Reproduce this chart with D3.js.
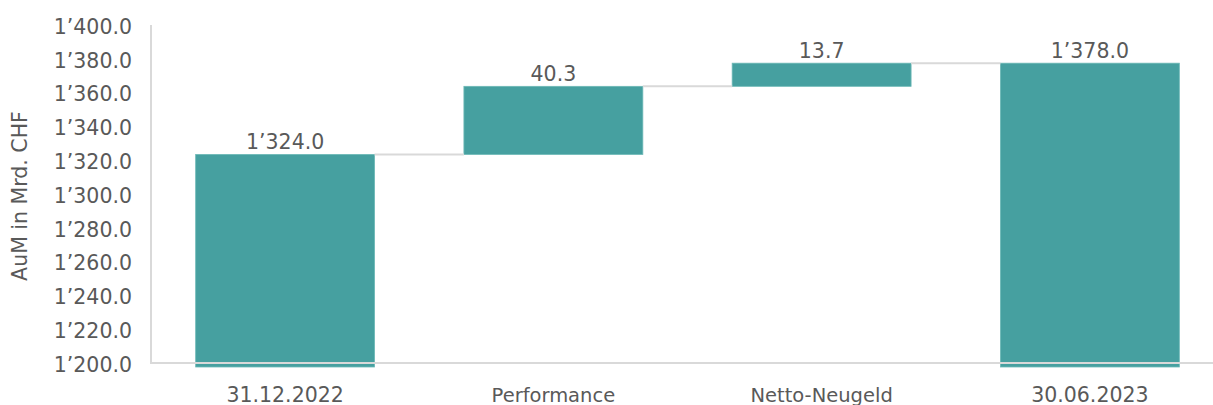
<!DOCTYPE html>
<html lang="de">
<head>
  <meta charset="UTF-8">
  <style>
    body { margin: 0; background: #fff; }
    svg text { font-family: "DejaVu Sans", "Liberation Sans", sans-serif; fill: #595959; }
    .bar { fill: #46a0a0; stroke: #6cb8b6; stroke-width: 0.8; }
    .conn { stroke: #d9d9d9; stroke-width: 2; }
  </style>
  <script src="https://d3js.org/d3.v7.min.js"></script>
</head>
<body>
<svg id="chart"></svg>
<script>
// waterfall: start, changes, end
var categories = ['31.12.2022', 'Performance', 'Netto-Neugeld', '30.06.2023'];
var values = [1324.0, 40.3, 13.7, 1378.0];
var isTotal = [true, false, false, true];
var yTicks = [1200, 1220, 1240, 1260, 1280, 1300, 1320, 1340, 1360, 1380, 1400];

var size = {width: 1213, height: 405};
var yMin = 1200, yMax = 1400;

var svg = d3.select('#chart')
  .attr('width', size.width)
  .attr('height', size.height);

var x = d3.scaleBand()
  .domain(categories)
  .range([151, 1224])
  .paddingInner(0.333)
  .paddingOuter(0.1665);

var y = d3.scaleLinear()
  .domain([yMin, yMax])
  .range([364, 26]);

// compute bar extents
var running = 0;
var bars = categories.map(function(c, i) {
  var lo, hi;
  if (isTotal[i]) {
    lo = yMin; hi = values[i]; running = values[i];
  } else {
    lo = running; hi = running + values[i]; running = hi;
  }
  return {name: c, lo: lo, hi: hi, v: values[i], total: isTotal[i]};
});

var fmt = function(v) {
  return d3.format(',.1f')(v).replace(/,/g, '\u2019');
};

// y axis labels
var yAxis = d3.axisLeft(y).tickValues(yTicks).tickFormat(fmt).tickSize(0).tickPadding(19);
var gy = svg.append('g')
  .attr('transform', 'translate(151,0)')
  .call(yAxis);
gy.select('.domain').remove();
gy.selectAll('text')
  .style('font-size', '20.5px')
  .style('font-family', null)
  .attr('fill', null)
  .attr('dy', '0.36em');

// axis line
svg.append('line').attr('class', 'conn')
  .attr('x1', 151).attr('x2', 151)
  .attr('y1', 25).attr('y2', y(yMin));

// bars
svg.selectAll('.bar')
  .data(bars)
  .enter()
  .append('rect')
  .attr('class', 'bar')
  .attr('x', function(d) { return x(d.name); })
  .attr('width', x.bandwidth())
  .attr('y', function(d) { return y(d.hi); })
  .attr('height', function(d) {
    var bottom = d.lo === yMin ? y(d.lo) + 3 : y(d.lo);
    return bottom - y(d.hi);
  });

// baseline drawn over bar feet
svg.append('line').attr('class', 'conn')
  .attr('x1', 151).attr('x2', size.width)
  .attr('y1', y(yMin) - 1).attr('y2', y(yMin) - 1);

// connectors
svg.selectAll('.link')
  .data(bars.slice(0, -1))
  .enter()
  .append('line')
  .attr('class', 'conn')
  .attr('x1', function(d) { return x(d.name) + x.bandwidth(); })
  .attr('x2', function(d, i) { return x(categories[i + 1]); })
  .attr('y1', function(d) { return y(d.hi); })
  .attr('y2', function(d) { return y(d.hi); });

// value labels
svg.selectAll('.val')
  .data(bars)
  .enter()
  .append('text')
  .attr('x', function(d) { return x(d.name) + x.bandwidth() / 2; })
  .attr('y', function(d) { return y(d.hi) - 5; })
  .attr('text-anchor', 'middle')
  .style('font-size', '20.5px')
  .text(function(d) { return fmt(d.v); });

// category labels
svg.selectAll('.cat')
  .data(categories)
  .enter()
  .append('text')
  .attr('x', function(d) { return x(d) + x.bandwidth() / 2; })
  .attr('y', 402)
  .attr('text-anchor', 'middle')
  .style('font-size', function(d, i) { return isTotal[i] ? '20.5px' : '19.5px'; })
  .text(function(d) { return d; });

// y title
svg.append('text')
  .attr('transform', 'translate(27,196) rotate(-90)')
  .attr('text-anchor', 'middle')
  .style('font-size', '20.5px')
  .text('AuM in Mrd. CHF');
</script>
</body>
</html>
